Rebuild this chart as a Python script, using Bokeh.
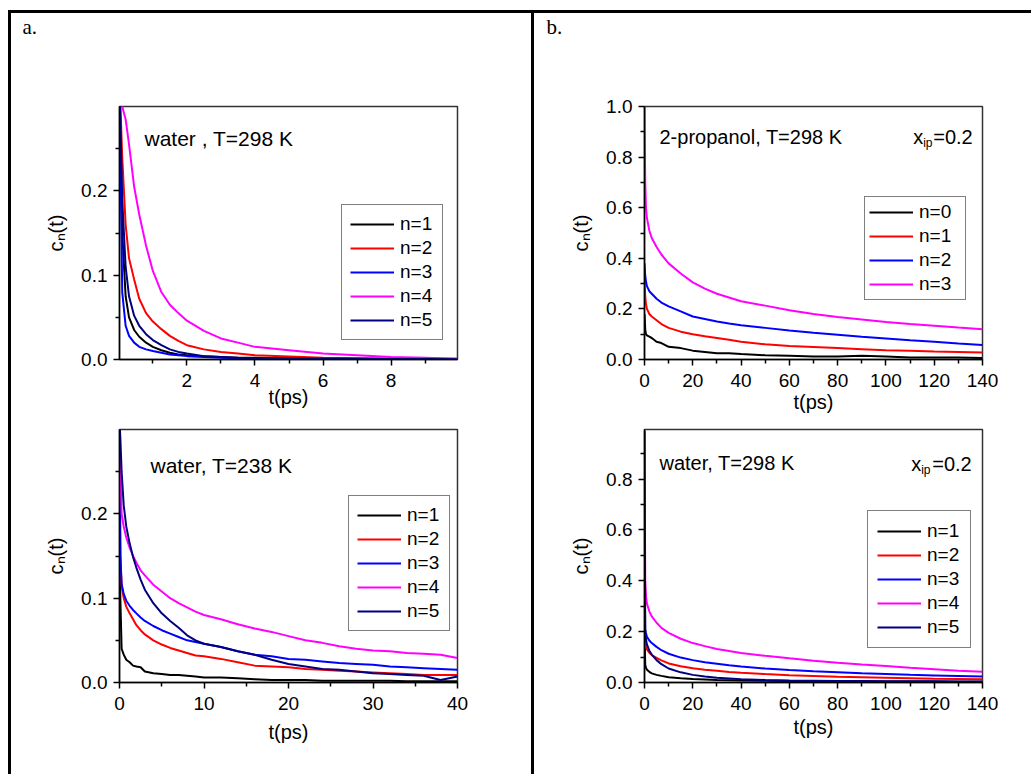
import math
from bokeh.plotting import figure
from bokeh.layouts import row, column
from bokeh.models import Label, Legend, LegendItem, FixedTicker, NumeralTickFormatter, Range1d
from bokeh.embed import file_html
from bokeh.resources import INLINE

# ---------------- data ----------------
# panel a, top: water, T=298 K
tl_t = [0.02, 0.1, 0.2, 0.3, 0.45, 0.6, 0.8, 1.0, 1.25, 1.5, 1.75, 2.0, 2.5, 3.0, 3.5, 4.0, 5.0, 6.0, 7.0, 8.0, 9.0, 9.95]
tl_n1 = [0.33, 0.15, 0.075, 0.05, 0.035, 0.027, 0.02, 0.015, 0.011, 0.008, 0.006, 0.005, 0.004, 0.003, 0.002, 0.002, 0.0015, 0.001, 0.001, 0.0008, 0.0005, 0.0005]
tl_n2 = [0.33, 0.24, 0.16, 0.12, 0.095, 0.072, 0.055, 0.045, 0.036, 0.028, 0.022, 0.017, 0.012, 0.009, 0.007, 0.005, 0.0035, 0.002, 0.0015, 0.001, 0.001, 0.0008]
tl_n3 = [0.33, 0.08, 0.04, 0.028, 0.02, 0.015, 0.012, 0.01, 0.008, 0.006, 0.005, 0.004, 0.003, 0.002, 0.0015, 0.001, 0.001, 0.0008, 0.0005, 0.0005, 0.0004, 0.0003]
tl_n4 = [0.34, 0.30, 0.285, 0.255, 0.205, 0.172, 0.135, 0.105, 0.08, 0.065, 0.055, 0.046, 0.034, 0.025, 0.02, 0.015, 0.011, 0.007, 0.005, 0.003, 0.002, 0.001]
tl_n5 = [0.33, 0.19, 0.11, 0.075, 0.052, 0.04, 0.03, 0.023, 0.017, 0.012, 0.009, 0.007, 0.004, 0.003, 0.002, 0.0015, 0.001, 0.001, 0.0008, 0.0005, 0.0005, 0.0004]

# panel a, bottom: water, T=238 K
bl_t = [0, 0.1, 0.25, 0.5, 0.8, 1.2, 1.6, 2, 2.5, 3, 4, 5, 6, 7, 8, 9, 10, 12, 14, 16, 18, 20, 22, 24, 26, 28, 30, 32, 34, 36, 38, 40]
bl_n1 = [0.31, 0.1, 0.04, 0.033, 0.027, 0.024, 0.02, 0.019, 0.018, 0.013, 0.011, 0.01, 0.009, 0.009, 0.008, 0.007, 0.006, 0.006, 0.005, 0.004, 0.003, 0.003, 0.003, 0.002, 0.002, 0.002, 0.002, 0.002, 0.0015, 0.0015, 0.0015, 0.0015]
bl_n2 = [0.31, 0.15, 0.115, 0.1, 0.09, 0.082, 0.075, 0.068, 0.062, 0.057, 0.05, 0.045, 0.041, 0.038, 0.035, 0.032, 0.031, 0.028, 0.024, 0.02, 0.019, 0.018, 0.016, 0.015, 0.014, 0.013, 0.012, 0.011, 0.01, 0.009, 0.009, 0.009]
bl_n3 = [0.31, 0.15, 0.117, 0.105, 0.097, 0.091, 0.086, 0.082, 0.077, 0.073, 0.067, 0.062, 0.058, 0.054, 0.05, 0.048, 0.046, 0.042, 0.037, 0.033, 0.031, 0.028, 0.027, 0.025, 0.023, 0.022, 0.021, 0.019, 0.018, 0.017, 0.016, 0.015]
bl_n4 = [0.31, 0.25, 0.2, 0.185, 0.172, 0.16, 0.15, 0.142, 0.133, 0.127, 0.116, 0.108, 0.1, 0.094, 0.089, 0.084, 0.08, 0.075, 0.069, 0.064, 0.06, 0.055, 0.05, 0.047, 0.043, 0.04, 0.038, 0.037, 0.035, 0.034, 0.033, 0.029]
bl_n5 = [0.31, 0.29, 0.25, 0.21, 0.185, 0.165, 0.149, 0.136, 0.122, 0.11, 0.094, 0.082, 0.073, 0.065, 0.056, 0.05, 0.046, 0.042, 0.037, 0.033, 0.027, 0.022, 0.019, 0.016, 0.015, 0.013, 0.011, 0.01, 0.009, 0.008, 0.003, 0.007]

# panel b, top: 2-propanol, T=298 K, x_ip=0.2
tr_t = [0, 0.3, 0.6, 1, 2, 3, 5, 7, 10, 15, 20, 25, 30, 35, 40, 50, 60, 70, 80, 90, 100, 110, 120, 130, 140]
tr_n0 = [0.18, 0.12, 0.1, 0.095, 0.09, 0.085, 0.07, 0.065, 0.05, 0.045, 0.035, 0.03, 0.025, 0.025, 0.022, 0.017, 0.015, 0.012, 0.012, 0.015, 0.012, 0.008, 0.008, 0.008, 0.006]
tr_n1 = [0.32, 0.25, 0.22, 0.2, 0.18, 0.17, 0.155, 0.14, 0.125, 0.11, 0.1, 0.092, 0.085, 0.078, 0.07, 0.06, 0.053, 0.049, 0.045, 0.041, 0.037, 0.035, 0.032, 0.03, 0.028]
tr_n2 = [0.38, 0.33, 0.31, 0.29, 0.27, 0.26, 0.24, 0.225, 0.21, 0.19, 0.17, 0.16, 0.15, 0.142, 0.135, 0.125, 0.115, 0.106, 0.098, 0.09, 0.083, 0.076, 0.07, 0.063, 0.057]
tr_n3 = [1.0, 0.7, 0.6, 0.56, 0.51, 0.48, 0.445, 0.415, 0.38, 0.34, 0.305, 0.28, 0.26, 0.245, 0.23, 0.213, 0.195, 0.18, 0.168, 0.158, 0.148, 0.14, 0.133, 0.126, 0.12]

# panel b, bottom: water, T=298 K, x_ip=0.2
br_t = [0, 0.3, 0.6, 1, 2, 3, 5, 7, 10, 15, 20, 25, 30, 35, 40, 50, 60, 70, 80, 90, 100, 110, 120, 130, 140]
br_n1 = [0.2, 0.07, 0.058, 0.05, 0.042, 0.036, 0.03, 0.026, 0.021, 0.017, 0.014, 0.012, 0.01, 0.009, 0.008, 0.007, 0.006, 0.006, 0.005, 0.005, 0.004, 0.004, 0.004, 0.003, 0.003]
br_n2 = [0.3, 0.16, 0.14, 0.13, 0.117, 0.108, 0.097, 0.087, 0.075, 0.064, 0.056, 0.05, 0.046, 0.041, 0.038, 0.033, 0.029, 0.026, 0.023, 0.021, 0.019, 0.017, 0.015, 0.014, 0.013]
br_n3 = [0.5, 0.21, 0.195, 0.18, 0.165, 0.155, 0.14, 0.127, 0.113, 0.098, 0.088, 0.08, 0.074, 0.068, 0.063, 0.055, 0.049, 0.044, 0.04, 0.036, 0.033, 0.03, 0.028, 0.026, 0.024]
br_n4 = [0.99, 0.4, 0.34, 0.31, 0.28, 0.26, 0.235, 0.215, 0.195, 0.172, 0.155, 0.143, 0.132, 0.124, 0.116, 0.105, 0.095, 0.086, 0.078, 0.071, 0.065, 0.058, 0.052, 0.046, 0.042]
br_n5 = [0.99, 0.2, 0.17, 0.15, 0.125, 0.11, 0.088, 0.072, 0.055, 0.04, 0.03, 0.024, 0.019, 0.016, 0.013, 0.01, 0.008, 0.007, 0.006, 0.006, 0.005, 0.005, 0.005, 0.004, 0.004]

labels_5 = ["n=1", "n=2", "n=3", "n=4", "n=5"]
labels_4 = ["n=0", "n=1", "n=2", "n=3"]
colors_5 = ["#000000", "#ff0000", "#0000ff", "#ff00ff", "#000080"]
colors_4 = ["#000000", "#ff0000", "#0000ff", "#ff00ff"]

tl_xticks, tl_xminor = [2, 4, 6, 8], [1, 3, 5, 7, 9]
bl_xticks, bl_xminor = [0, 10, 20, 30, 40], [5, 15, 25, 35]
r_xticks, r_xminor = [0, 20, 40, 60, 80, 100, 120, 140], [10, 30, 50, 70, 90, 110, 130]
l_yticks, l_yminor = [0.0, 0.1, 0.2], [0.05, 0.15, 0.25]
tr_yticks = [0.0, 0.2, 0.4, 0.6, 0.8, 1.0]
br_yticks = [0.0, 0.2, 0.4, 0.6, 0.8]
r_yminor = [0.1, 0.3, 0.5, 0.7, 0.9]

# ---------------- styling helpers ----------------
SANS = "Liberation Sans"
SERIF = "Liberation Serif"
FS = "19px"
FW, FH = 338, 253
HEAD_H = 40


def panel(xr, yr, xt, xm, yt, ym, mbl, mbr, mbt, mbb, xlab_standoff):
    p = figure(frame_width=FW, frame_height=FH, x_range=Range1d(*xr), y_range=Range1d(*yr),
               output_backend="svg", toolbar_location=None,
               min_border_left=mbl, min_border_right=mbr, min_border_top=mbt, min_border_bottom=mbb,
               background_fill_color="white", border_fill_color="white")
    p.xgrid.visible = False
    p.ygrid.visible = False
    p.outline_line_color = "#333333"
    p.outline_line_width = 1.5
    p.xaxis.ticker = FixedTicker(ticks=xt, minor_ticks=xm)
    p.yaxis.ticker = FixedTicker(ticks=yt, minor_ticks=ym)
    p.yaxis.formatter = NumeralTickFormatter(format="0.0")
    for ax in (p.xaxis[0], p.yaxis[0]):
        ax.axis_line_color = "black"
        ax.axis_line_width = 1.5
        ax.major_tick_line_color = "black"
        ax.minor_tick_line_color = "black"
        ax.major_tick_line_width = 1.5
        ax.minor_tick_line_width = 1.5
        ax.major_tick_in = 0
        ax.major_tick_out = 6
        ax.minor_tick_in = 0
        ax.minor_tick_out = 4
        ax.major_label_text_font = SANS
        ax.major_label_text_font_size = FS
        ax.major_label_text_color = "black"
        ax.axis_label_text_font = SANS
        ax.axis_label_text_font_size = "20px"
        ax.axis_label_text_font_style = "normal"
        ax.axis_label_text_color = "black"
    p.xaxis.major_label_standoff = 8
    p.yaxis.major_label_standoff = 6
    p.xaxis.axis_label = "t(ps)"
    p.xaxis.axis_label_standoff = xlab_standoff
    p.yaxis.axis_label = "c\u2099(t)"
    p.yaxis.axis_label_standoff = 11
    return p


def header(width, s, x, y):
    h = figure(frame_width=width, frame_height=HEAD_H, x_range=Range1d(0, 1), y_range=Range1d(0, 1),
               output_backend="svg", toolbar_location=None, frame_align=False,
               x_axis_location=None, y_axis_location=None,
               min_border_left=0, min_border_right=0, min_border_top=0, min_border_bottom=0,
               background_fill_color="white", border_fill_color="white")
    h.xgrid.visible = False
    h.ygrid.visible = False
    h.outline_line_color = None
    h.add_layout(Label(x=x, y=y, x_units="screen", y_units="screen", text=s,
                       text_font=SERIF, text_font_size="21px", text_color="black",
                       text_baseline="alphabetic", text_align="left"))
    return h


def text(p, x, y, s, size=FS, font=SANS):
    p.add_layout(Label(x=x, y=y, x_units="screen", y_units="screen", text=s,
                       text_font=font, text_font_size=size, text_color="black",
                       text_baseline="alphabetic", text_align="left"))


def add_lines(p, t, series, colors, labels, loc, padding, label_width):
    items = []
    for ys, c, lab in zip(series, colors, labels):
        r = p.line(t, ys, line_color=c, line_width=2)
        items.append(LegendItem(label=lab, renderers=[r]))
    lg = Legend(items=items, location=loc, padding=padding, spacing=2, margin=0,
                label_height=22, glyph_height=22, glyph_width=44, label_standoff=6,
                label_width=label_width, label_text_font=SANS, label_text_font_size="19px",
                label_text_color="black", border_line_color="black", border_line_width=1.5,
                background_fill_color="white", background_fill_alpha=1.0)
    p.add_layout(lg)


# ---------------- panels ----------------
LEFT_W = 520
RIGHT_W = 497

head_a = header(LEFT_W, "a.", 11, 27)
head_b = header(RIGHT_W, "b.", 12, 27)

tl = panel((0.02, 9.95), (0, 0.3), tl_xticks, tl_xminor, l_yticks, l_yminor,
           108, LEFT_W - 108 - FW, 93 - HEAD_H, 61, -4)
add_lines(tl, tl_t, [tl_n1, tl_n2, tl_n3, tl_n4, tl_n5], colors_5, labels_5, (222, 19), 8, 34)
text(tl, 25, 221, "water , T=298 K", size="21px")

bl = panel((0, 40), (0, 0.3), bl_xticks, bl_xminor, l_yticks, l_yminor,
           108, LEFT_W - 108 - FW, 9, 92, 8)
add_lines(bl, bl_t, [bl_n1, bl_n2, bl_n3, bl_n4, bl_n5], colors_5, labels_5, (229, 51), 8, 34)
text(bl, 31, 217, "water, T=238 K", size="21px")

tr = panel((0, 140), (0, 1.0), r_xticks, r_xminor, tr_yticks, r_yminor,
           110, RIGHT_W - 110 - FW, 93 - HEAD_H, 61, 1)
add_lines(tr, tr_t, [tr_n0, tr_n1, tr_n2, tr_n3], colors_4, labels_4, (220, 59), 4, 42)
text(tr, 15, 223, "2-propanol, T=298 K", size="20px")
text(tr, 268.7, 223, "x", size="20px")
text(tr, 278.7, 217, "ip", size="12px")
text(tr, 288.7, 223, "=0.2", size="20px")

br = panel((0, 140), (0, 0.995), r_xticks, r_xminor, br_yticks, r_yminor,
           110, RIGHT_W - 110 - FW, 9, 92, 3)
add_lines(br, br_t, [br_n1, br_n2, br_n3, br_n4, br_n5], colors_5, labels_5, (223, 34), 9, 34)
text(br, 15, 220, "water, T=298 K", size="20px")
text(br, 266.7, 219, "x", size="20px")
text(br, 276.7, 213, "ip", size="12px")
text(br, 287.7, 219, "=0.2", size="20px")

BORDER = "3px solid black"
col_a = column(head_a, tl, bl, styles={"border-top": BORDER, "border-left": BORDER, "border-right": BORDER})
col_b = column(head_b, tr, br, styles={"border-top": BORDER})
root = row(col_a, col_b, styles={"margin-top": "10px", "margin-left": "8px"})

open("out.html", "w").write(file_html(root, INLINE))
